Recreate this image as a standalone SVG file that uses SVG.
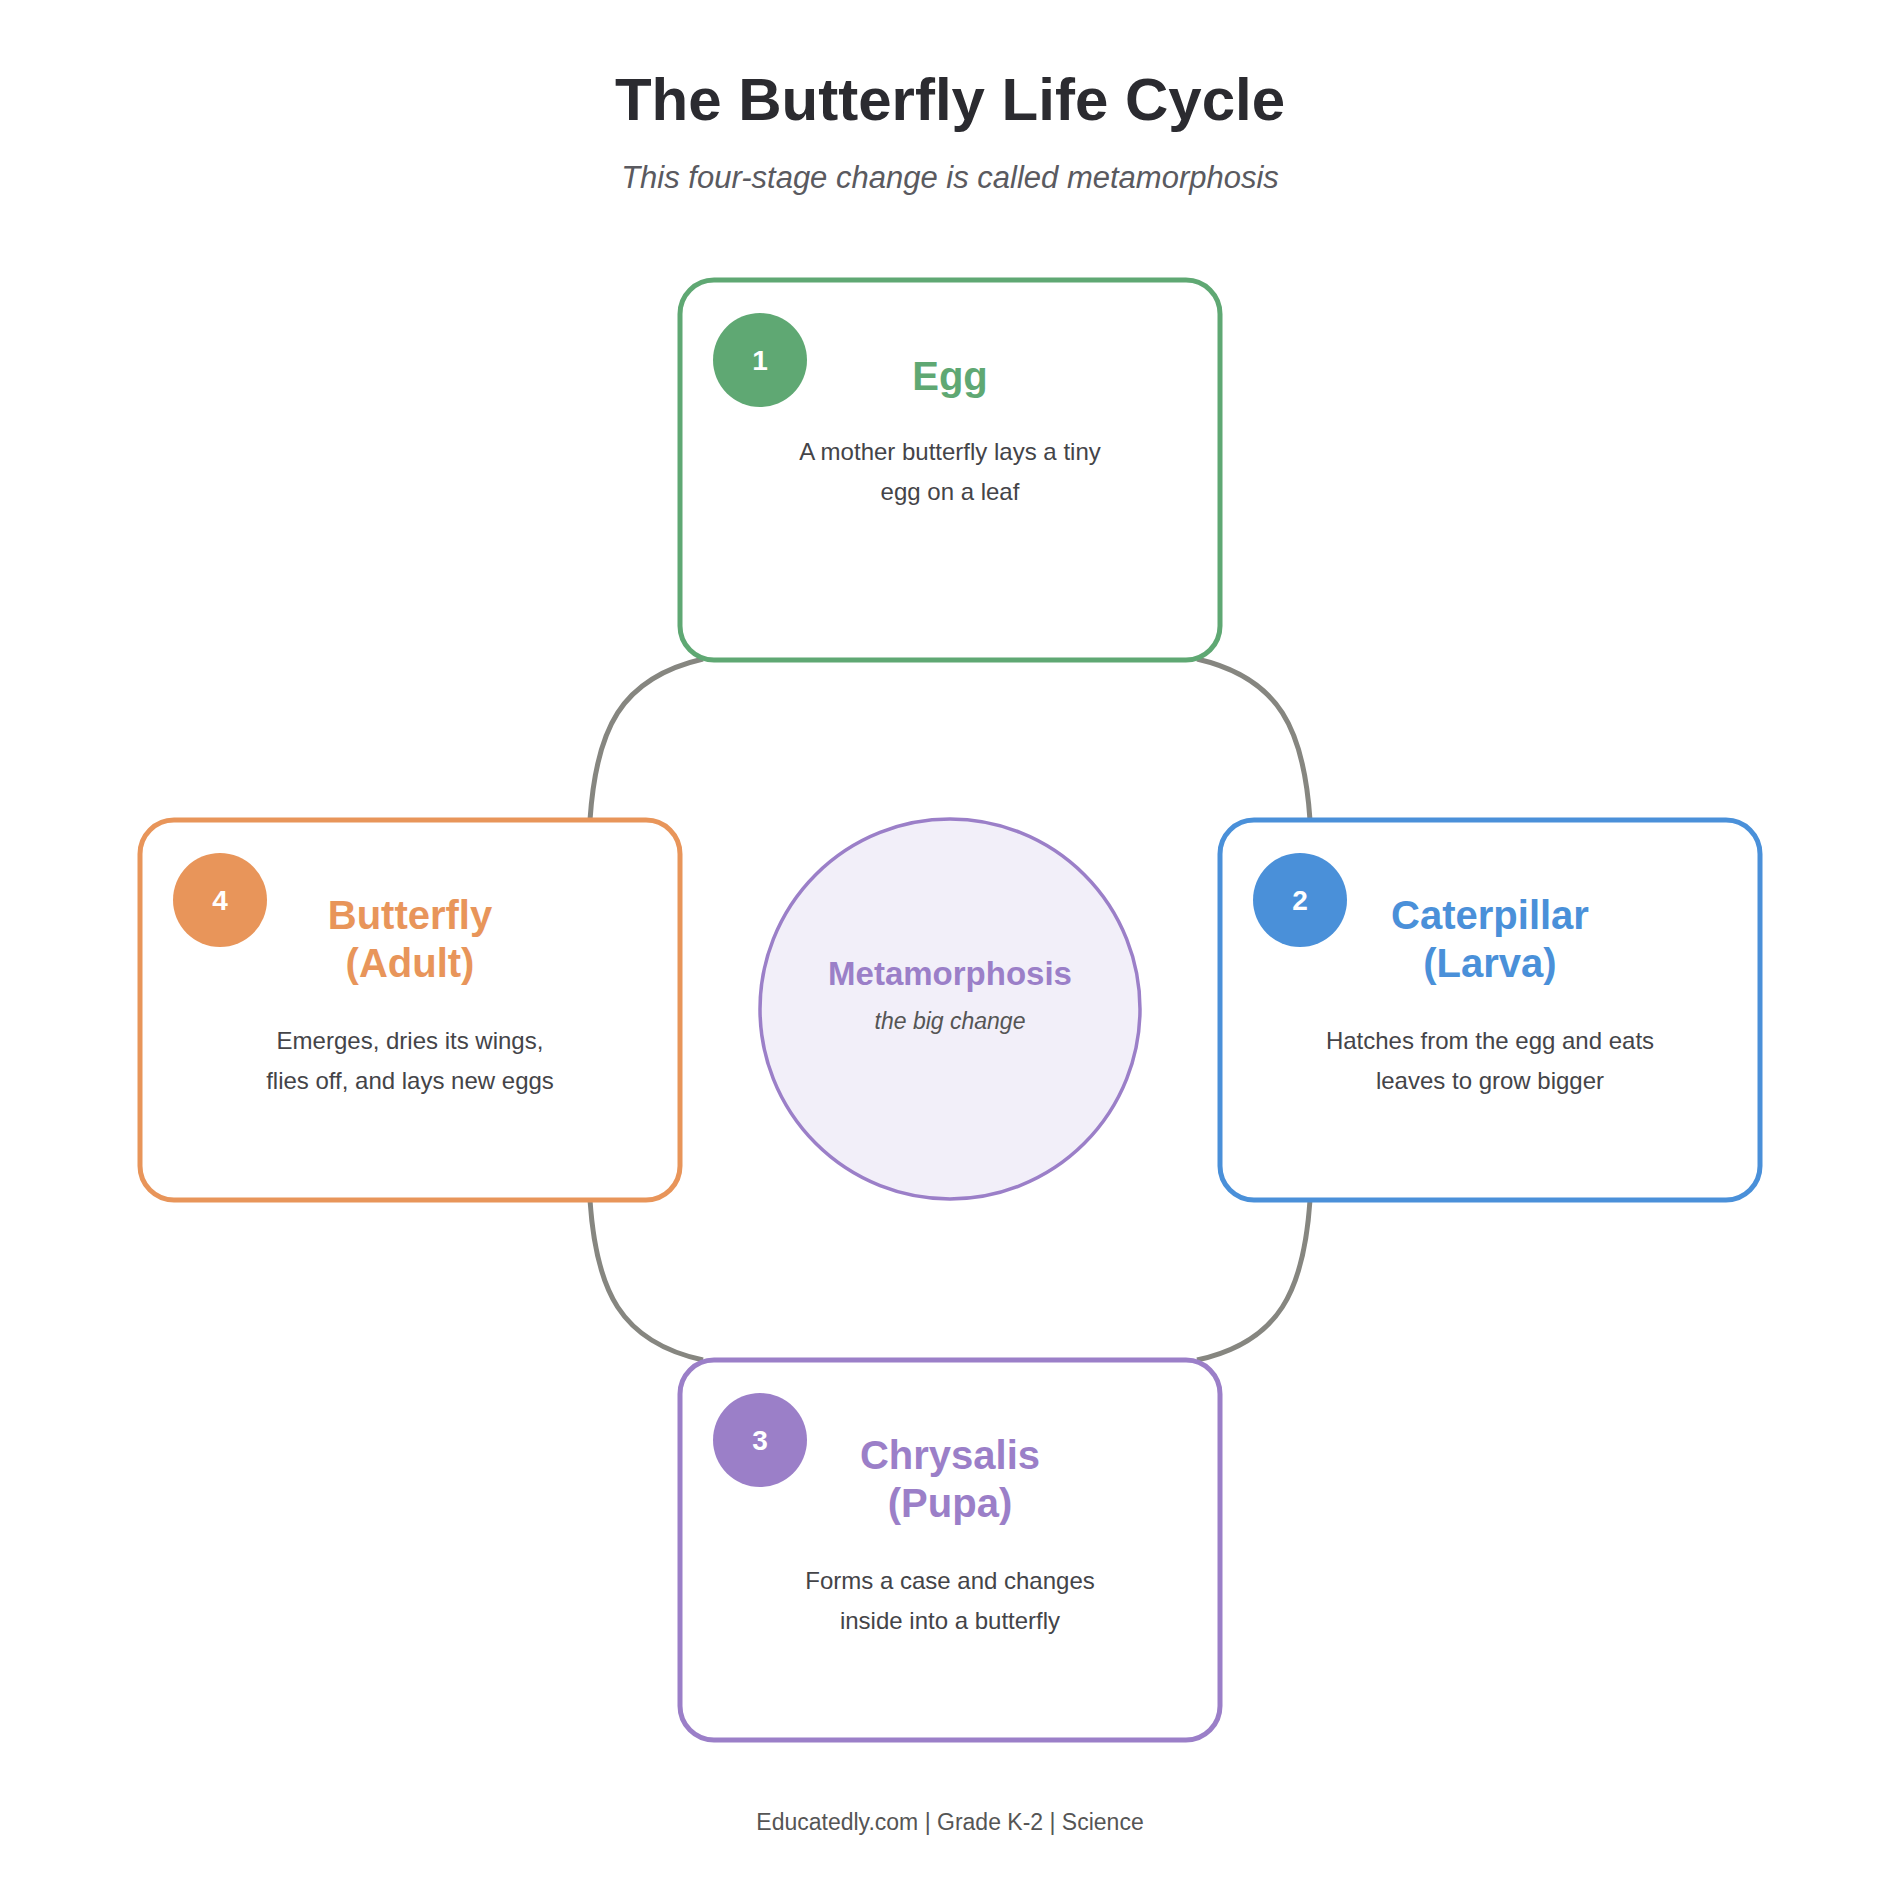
<svg xmlns="http://www.w3.org/2000/svg" width="1900" height="1900" viewBox="0 0 1900 1900">
<style>
text{font-family:"Liberation Sans",Arial,sans-serif;text-anchor:middle}
.box{fill:#fff;stroke-width:5}
.ttl{font-size:40px;font-weight:bold}
.desc{font-size:24px;fill:#444448}
.num{font-size:28px;font-weight:bold;fill:#fff}
.conn{fill:none;stroke:#868680;stroke-width:5}
</style>
<rect width="1900" height="1900" fill="#fff"/>
<text x="950" y="120" font-size="60" font-weight="bold" fill="#2b2b30">The Butterfly Life Cycle</text>
<text x="950" y="188" font-size="31" font-style="italic" fill="#5a5a60">This four-stage change is called metamorphosis</text>
<g id="connectors">
<path class="conn" d="M703 659 C620 678 596 730 590 820"/>
<path class="conn" d="M1197 659 C1280 678 1304 730 1310 820"/>
<path class="conn" d="M1310 1200 C1304 1290 1280 1342 1197 1360"/>
<path class="conn" d="M590 1200 C596 1290 620 1342 703 1360"/>
</g>
<g id="center">
<circle cx="950" cy="1009" r="190" fill="#f2eff9" stroke="#9b7fc8" stroke-width="3.5"/>
<text x="950" y="985" font-size="33" font-weight="bold" fill="#9b7fc8">Metamorphosis</text>
<text x="950" y="1029" font-size="23" font-style="italic" fill="#555">the big change</text>
</g>
<g id="egg">
<rect class="box" x="680" y="280" width="540" height="380" rx="34" stroke="#5fa873"/>
<circle cx="760" cy="360" r="47" fill="#5fa873"/>
<text class="num" x="760" y="370">1</text>
<text class="ttl" x="950" y="390" fill="#5fa873">Egg</text>
<text class="desc" x="950" y="460">A mother butterfly lays a tiny</text>
<text class="desc" x="950" y="500">egg on a leaf</text>
</g>
<g id="caterpillar">
<rect class="box" x="1220" y="820" width="540" height="380" rx="34" stroke="#4a90d9"/>
<circle cx="1300" cy="900" r="47" fill="#4a90d9"/>
<text class="num" x="1300" y="910">2</text>
<text class="ttl" x="1490" y="929" fill="#4a90d9">Caterpillar</text>
<text class="ttl" x="1490" y="977" fill="#4a90d9">(Larva)</text>
<text class="desc" x="1490" y="1049">Hatches from the egg and eats</text>
<text class="desc" x="1490" y="1089">leaves to grow bigger</text>
</g>
<g id="chrysalis">
<rect class="box" x="680" y="1360" width="540" height="380" rx="34" stroke="#9b7fc8"/>
<circle cx="760" cy="1440" r="47" fill="#9b7fc8"/>
<text class="num" x="760" y="1450">3</text>
<text class="ttl" x="950" y="1469" fill="#9b7fc8">Chrysalis</text>
<text class="ttl" x="950" y="1517" fill="#9b7fc8">(Pupa)</text>
<text class="desc" x="950" y="1589">Forms a case and changes</text>
<text class="desc" x="950" y="1629">inside into a butterfly</text>
</g>
<g id="butterfly">
<rect class="box" x="140" y="820" width="540" height="380" rx="34" stroke="#e8955a"/>
<circle cx="220" cy="900" r="47" fill="#e8955a"/>
<text class="num" x="220" y="910">4</text>
<text class="ttl" x="410" y="929" fill="#e8955a">Butterfly</text>
<text class="ttl" x="410" y="977" fill="#e8955a">(Adult)</text>
<text class="desc" x="410" y="1049">Emerges, dries its wings,</text>
<text class="desc" x="410" y="1089">flies off, and lays new eggs</text>
</g>
<text x="950" y="1830" font-size="23" fill="#555">Educatedly.com  |  Grade K-2  |  Science</text>
</svg>
